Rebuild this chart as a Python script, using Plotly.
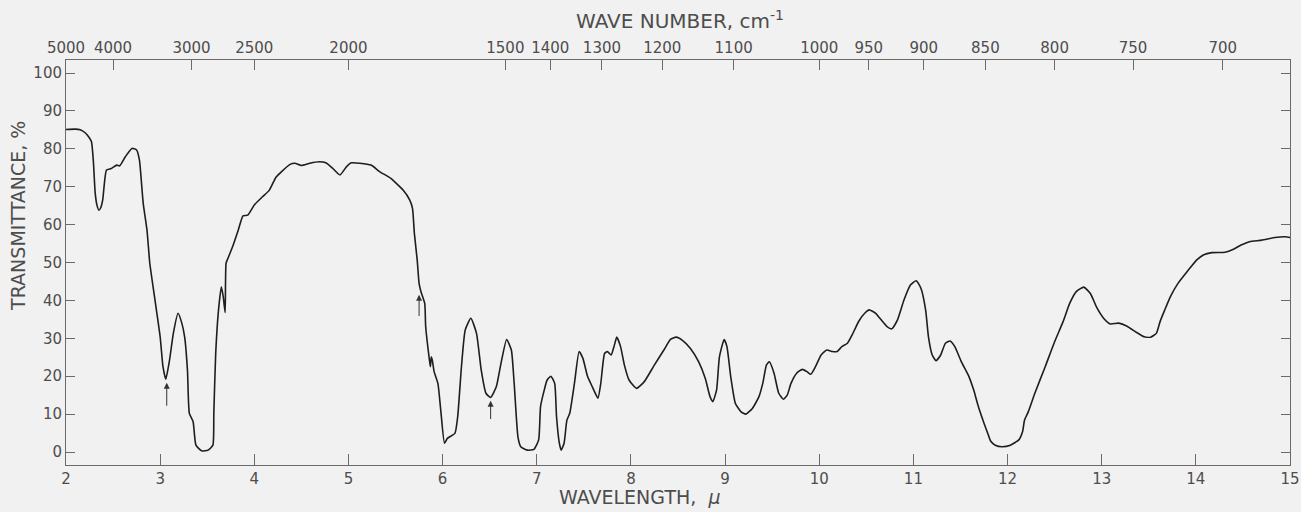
import plotly.graph_objects as go

# Wavelength (microns) and transmittance (%)
wavelength = [
    2.00, 2.10, 2.15, 2.20, 2.24, 2.27, 2.29, 2.31, 2.33, 2.35, 2.37, 2.39, 2.43, 2.48, 2.54, 2.57,
    2.63, 2.70, 2.75, 2.78, 2.82, 2.86, 2.89, 2.94, 3.00, 3.03, 3.06, 3.10, 3.14, 3.19, 3.23, 3.26,
    3.29, 3.31, 3.35, 3.38, 3.44, 3.51, 3.56, 3.57, 3.59, 3.62, 3.65, 3.67, 3.69, 3.70, 3.72, 3.77,
    3.83, 3.88, 3.93, 4.00, 4.09, 4.16, 4.23, 4.29, 4.38, 4.43, 4.50, 4.59, 4.69, 4.76, 4.83, 4.91,
    4.98, 5.03, 5.12, 5.24, 5.33, 5.45, 5.58, 5.65, 5.68, 5.70, 5.73, 5.75, 5.77, 5.81, 5.82, 5.86,
    5.87, 5.88, 5.89, 5.91, 5.95, 5.98, 6.02, 6.05, 6.13, 6.16, 6.20, 6.24, 6.30, 6.36, 6.41, 6.46,
    6.51, 6.57, 6.62, 6.68, 6.73, 6.76, 6.80, 6.83, 6.90, 6.97, 7.02, 7.04, 7.08, 7.11, 7.15, 7.19,
    7.21, 7.24, 7.26, 7.29, 7.32, 7.35, 7.40, 7.45, 7.49, 7.54, 7.59, 7.65, 7.68, 7.72, 7.75, 7.79,
    7.82, 7.85, 7.89, 7.93, 7.98, 8.06, 8.14, 8.25, 8.35, 8.42, 8.48, 8.55, 8.63, 8.72, 8.79, 8.84,
    8.87, 8.91, 8.94, 8.99, 9.02, 9.06, 9.11, 9.17, 9.22, 9.29, 9.36, 9.40, 9.44, 9.47, 9.52, 9.57,
    9.62, 9.66, 9.70, 9.76, 9.82, 9.87, 9.91, 9.96, 10.02, 10.08, 10.14, 10.19, 10.24, 10.30, 10.35, 10.42,
    10.49, 10.53, 10.60, 10.63, 10.72, 10.77, 10.83, 10.90, 10.97, 11.03, 11.08, 11.13, 11.16, 11.20, 11.24, 11.29,
    11.34, 11.39, 11.44, 11.51, 11.59, 11.64, 11.69, 11.75, 11.79, 11.82, 11.87, 11.94, 12.03, 12.12, 12.16, 12.18,
    12.22, 12.29, 12.40, 12.50, 12.59, 12.66, 12.73, 12.81, 12.88, 12.95, 13.02, 13.09, 13.18, 13.27, 13.36, 13.45,
    13.52, 13.58, 13.62, 13.67, 13.73, 13.81, 13.92, 14.01, 14.08, 14.17, 14.31, 14.40, 14.48, 14.57, 14.70, 14.84,
    14.95, 15.00,
]
transmittance = [
    85.1, 85.2, 85.0, 84.3, 83.2, 81.9, 77.0, 68.3, 65.0, 63.8, 64.5, 66.5, 74.4, 74.8, 75.7, 75.5,
    77.9, 80.1, 79.7, 77.0, 65.6, 58.6, 49.8, 41.0, 30.4, 22.5, 19.2, 24.3, 31.3, 36.6, 34.0, 30.4,
    21.6, 10.2, 8.0, 1.8, 0.3, 0.5, 1.8, 10.2, 26.0, 37.5, 43.6, 41.0, 36.8, 49.8, 51.1, 54.2,
    58.6, 62.3, 62.5, 65.2, 67.4, 69.1, 72.5, 74.0, 75.9, 76.2, 75.6, 76.2, 76.6, 76.3, 74.9, 73.1,
    75.3, 76.3, 76.2, 75.7, 74.0, 72.2, 69.1, 66.5, 64.3, 57.7, 50.7, 44.5, 42.3, 39.2, 33.1, 24.3,
    22.5, 25.1, 24.3, 21.2, 18.1, 11.1, 2.3, 3.6, 4.9, 9.3, 22.5, 32.2, 35.3, 31.3, 21.6, 15.5,
    14.4, 17.2, 23.4, 29.7, 26.9, 18.1, 4.0, 1.4, 0.5, 0.7, 3.2, 12.0, 16.4, 19.0, 20.0, 18.1,
    9.3, 2.3, 0.5, 2.3, 8.4, 10.2, 18.1, 26.5, 24.7, 19.9, 17.2, 14.2, 18.1, 26.0, 26.5, 25.6,
    27.8, 30.3, 27.8, 23.0, 19.0, 16.8, 18.5, 23.0, 26.9, 29.7, 30.3, 29.4, 27.4, 23.8, 19.4, 14.6,
    13.3, 16.4, 25.1, 29.7, 27.8, 19.9, 12.8, 10.6, 10.0, 11.5, 14.6, 18.1, 23.0, 23.8, 20.8, 15.5,
    13.9, 15.0, 18.1, 20.8, 21.8, 21.2, 20.5, 22.5, 25.6, 26.9, 26.5, 26.5, 27.8, 28.7, 30.9, 34.5,
    36.8, 37.5, 36.6, 35.7, 33.1, 32.5, 34.8, 40.1, 44.1, 45.2, 43.2, 37.5, 30.4, 25.6, 24.1, 25.6,
    28.7, 29.3, 27.8, 23.8, 19.9, 16.4, 12.0, 7.6, 4.9, 2.9, 1.8, 1.4, 1.8, 3.2, 5.4, 8.4,
    10.6, 15.5, 22.5, 29.1, 34.4, 39.2, 42.3, 43.5, 41.8, 38.0, 35.3, 33.8, 34.0, 33.2, 31.7, 30.4,
    30.3, 31.3, 34.4, 37.5, 41.0, 44.5, 48.0, 50.7, 52.0, 52.6, 52.7, 53.5, 54.6, 55.5, 55.9, 56.6,
    56.8, 56.6,
]

# Axis ticks
x_ticks = list(range(2, 16))
y_ticks = list(range(0, 101, 10))
wavenumbers = [5000, 4000, 3000, 2500, 2000, 1500, 1400, 1300, 1200, 1100, 1000, 950, 900, 850, 800, 750, 700]

# Marker arrows: (wavelength, head T, tail T)
arrow_x = [3.07, 5.75, 6.51]
arrow_head = [18.3, 41.5, 13.5]
arrow_tail = [11.8, 35.5, 8.3]

FONT = "DejaVu Sans"
TXT = "#4d4d4d"
AX = "#6a6a6a"
BG = "#f1f1f1"

fig = go.Figure()
fig.add_trace(go.Scatter(
    x=wavelength, y=transmittance, mode="lines",
    line=dict(color="#1e1e1e", width=1.6, shape="spline", smoothing=0.5),
    hoverinfo="skip", showlegend=False,
))
# invisible trace to activate the top axis
fig.add_trace(go.Scatter(x=[2, 15], y=[None, None], xaxis="x2", yaxis="y",
                         mode="lines", showlegend=False, hoverinfo="skip"))

for ax_, h, t in zip(arrow_x, arrow_head, arrow_tail):
    fig.add_annotation(x=ax_, y=h, ax=ax_, ay=t, xref="x", yref="y", axref="x", ayref="y",
                       showarrow=True, arrowhead=2, arrowsize=1.2, arrowwidth=1,
                       arrowcolor="#333", text="")

# Axis titles placed as annotations
fig.add_annotation(text="WAVE NUMBER, cm<sup>-1</sup>", xref="paper", yref="paper",
                   x=0.502, y=1, yshift=40, showarrow=False, xanchor="center", yanchor="middle",
                   font=dict(family=FONT, size=20, color=TXT))
fig.add_annotation(text="WAVELENGTH,  <i>μ</i>", xref="paper", yref="paper",
                   x=0.469, y=0, yshift=-32, showarrow=False, xanchor="center", yanchor="middle",
                   font=dict(family=FONT, size=19, color=TXT))
fig.add_annotation(text="TRANSMITTANCE, %", xref="paper", yref="paper",
                   x=0, xshift=-48, y=0.615, showarrow=False, textangle=-90,
                   xanchor="center", yanchor="middle",
                   font=dict(family=FONT, size=19, color=TXT))

fig.update_layout(
    width=1301, height=512,
    margin=dict(l=66, r=11, t=60, b=47, autoexpand=False),
    paper_bgcolor=BG, plot_bgcolor=BG,
    font=dict(family=FONT, color=TXT, size=15),
    xaxis=dict(
        range=[2, 15], tickvals=x_ticks, ticktext=[str(v) for v in x_ticks],
        ticks="inside", ticklen=11, tickwidth=1, tickcolor=AX,
        showline=True, linecolor=AX, linewidth=1, showgrid=False, zeroline=False,
        tickfont=dict(size=15, color=TXT), automargin=False, ticklabeloverflow="allow",
    ),
    xaxis2=dict(
        range=[2, 15], overlaying="x", side="top",
        tickvals=[10000 / w for w in wavenumbers], ticktext=[str(w) for w in wavenumbers],
        ticks="inside", ticklen=10, tickwidth=1, tickcolor=AX,
        showline=True, linecolor=AX, linewidth=1, showgrid=False, zeroline=False,
        tickfont=dict(size=15, color=TXT), automargin=False, ticklabeloverflow="allow",
    ),
    yaxis=dict(
        range=[-3.43, 103.43], tickvals=y_ticks,
        ticks="inside", ticklen=9, tickwidth=1, tickcolor=AX,
        showline=True, linecolor=AX, linewidth=1, mirror="ticks",
        showgrid=False, zeroline=False,
        tickfont=dict(size=15, color=TXT), automargin=False,
    ),
)

fig.write_html(
    "out.html",
    config={"displayModeBar": False},
    post_script="document.body.style.margin='0';document.body.style.background='%s';" % BG,
)
